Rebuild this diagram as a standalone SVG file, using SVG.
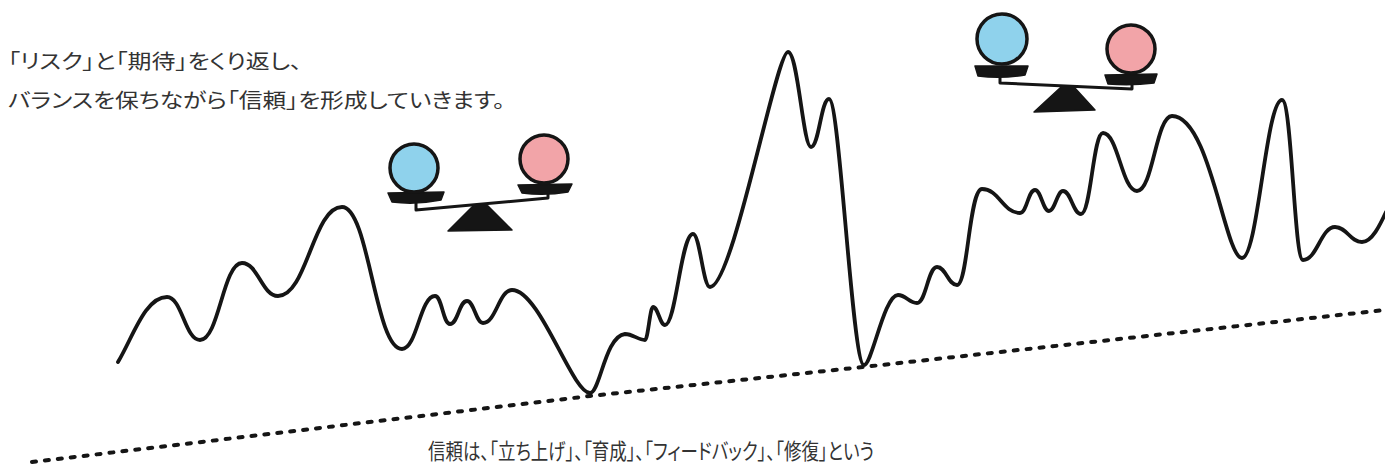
<svg xmlns="http://www.w3.org/2000/svg" width="1385" height="466" viewBox="0 0 1385 466">
  <style>
    .txt { font-family: "Noto Sans CJK JP", "Noto Sans", sans-serif; fill: #333333; font-feature-settings: "palt"; }
    .line { fill: none; stroke: #151515; stroke-width: 3.8; stroke-linecap: round; stroke-linejoin: round; }
    .trend { fill: none; stroke: #151515; stroke-width: 4; stroke-linecap: round; stroke-dasharray: 4 9; }
    .ink { fill: #151515; stroke: #151515; stroke-width: 1.5; stroke-linejoin: round; }
    .beam { fill: none; stroke: #151515; stroke-width: 3; stroke-linejoin: round; }
    .blue { fill: #8fd2ec; stroke: #151515; stroke-width: 3.5; }
    .pink { fill: #f2a4a8; stroke: #151515; stroke-width: 3.5; }
  </style>

  <!-- captions -->
  <g id="caption-top">
    <text class="txt" x="8" y="69" font-size="20" textLength="294" lengthAdjust="spacingAndGlyphs">「リスク」と「期待」をくり返し、</text>
    <text class="txt" x="8" y="108" font-size="20" textLength="497" lengthAdjust="spacingAndGlyphs">バランスを保ちながら「信頼」を形成していきます。</text>
  </g>
  <g id="caption-bottom">
    <text class="txt" x="428" y="459" font-size="21.5" textLength="446" lengthAdjust="spacingAndGlyphs">信頼は、「立ち上げ」、「育成」、「フィードバック」、「修復」という</text>
  </g>

  <!-- rising dotted trend line -->
  <g id="trend">
    <path class="trend" d="M32,462 L590,396 L863,367 L1385,310"/>
  </g>

  <!-- fluctuating trust curve -->
  <g id="curve">
    <path class="line" d="M118,362
      C133,337 145,297 167,297
      C182,297 185,340 200,340
      C219,340 223,263 242,263
      C258,263 262,296 278,296
      C307,296 313,207 342,207
      C369,207 375,349 402,349
      C417,349 420,296 435,296
      C442,296 443,324 450,324
      C458,324 459,301 467,301
      C474,301 476,323 483,323
      C496,323 499,290 512,290
      C540,290 572,393 590,393
      C600,393 605,336 625,334
      C633,334 638,340 645,340
      C648,340 650,307 653,307
      C658,307 660,325 665,325
      C676,325 681,234 693,234
      C700,234 703,287 710,287
      C733,287 776,52 788,52
      C798,52 803,147 811,147
      C819,147 821,99 829,99
      C840,99 852,365 864,365
      C872,365 884,295 898,295
      C906,295 909,303 917,303
      C926,303 928,267 937,267
      C946,267 948,285 957,285
      C968,285 969,189 982,189
      C999,189 1003,213 1020,213
      C1027,213 1028,190 1035,190
      C1041,190 1043,211 1049,211
      C1055,211 1057,191 1063,191
      C1071,191 1073,214 1081,214
      C1091,214 1093,133 1103,133
      C1118,133 1122,191 1137,191
      C1153,191 1156,116 1172,116
      C1210,116 1225,258 1242,258
      C1258,258 1266,100 1282,100
      C1292,100 1294,260 1303,260
      C1317,260 1321,227 1335,227
      C1347,227 1350,242 1362,242
      C1372,242 1380,225 1386,212"/>
  </g>

  <!-- balance over the first rise -->
  <g id="balance-1">
    <path class="beam" d="M416,200 L416,210 L548,198 L548,190"/>
    <path class="ink" d="M448,231 L472,207 Q480,203 488,206 L512,230 Z"/>
    <path class="ink" d="M388,193 L444,192 L441,200 Q416,205 392,202 Z"/>
    <path class="ink" d="M518,185 L572,184 L568,192 Q545,196 522,193 Z"/>
    <circle class="blue" cx="414" cy="168" r="24"/>
    <circle class="pink" cx="544" cy="159" r="24"/>
  </g>

  <!-- balance over the later rise -->
  <g id="balance-2">
    <path class="beam" d="M1000,74 L1000,83 L1132,89 L1132,81"/>
    <path class="ink" d="M1034,112 L1060,88 Q1067,84 1074,87 L1095,110 Z"/>
    <path class="ink" d="M975,66 L1028,66 L1025,75 Q1001,79 978,76 Z"/>
    <path class="ink" d="M1105,75 L1157,74 L1154,83 Q1131,86 1108,84 Z"/>
    <circle class="blue" cx="1002" cy="39" r="25"/>
    <circle class="pink" cx="1131" cy="49" r="24"/>
  </g>
</svg>
